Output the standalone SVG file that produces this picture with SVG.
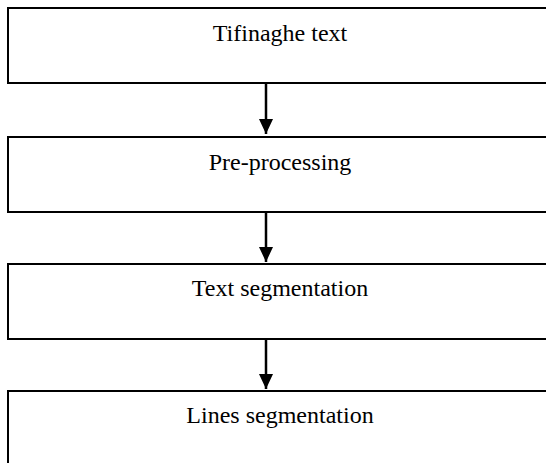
<svg xmlns="http://www.w3.org/2000/svg" width="546" height="463" viewBox="0 0 546 463">
<style>
.box{fill:#fff;stroke:#000;stroke-width:2}
.lbl{font-family:"Liberation Serif","Times New Roman",serif;font-size:24px;fill:#000;text-anchor:middle}
.conn{stroke:#000;stroke-width:2.5;fill:none}
</style>
<defs>
<marker id="ah" markerUnits="userSpaceOnUse" markerWidth="16" markerHeight="16" refX="15" refY="7" orient="auto">
<path d="M0,0 L15,7 L0,14 Z" fill="#000"/>
</marker>
</defs>
<rect width="546" height="463" fill="#fff"/>
<g id="n1"><rect class="box" x="8" y="8" width="560" height="75"/><text class="lbl" x="280" y="41">Tifinaghe text</text></g>
<g id="n2"><rect class="box" x="8" y="137" width="560" height="75"/><text class="lbl" x="280" y="170">Pre-processing</text></g>
<g id="n3"><rect class="box" x="8" y="264" width="560" height="75"/><text class="lbl" x="280" y="296">Text segmentation</text></g>
<g id="n4"><rect class="box" x="8" y="391" width="560" height="100"/><text class="lbl" x="280" y="423">Lines segmentation</text></g>
<g id="connectors">
<line class="conn" x1="266" y1="83" x2="266" y2="134" marker-end="url(#ah)"/>
<line class="conn" x1="266" y1="212" x2="266" y2="262" marker-end="url(#ah)"/>
<line class="conn" x1="266" y1="339" x2="266" y2="389" marker-end="url(#ah)"/>
</g>
</svg>
